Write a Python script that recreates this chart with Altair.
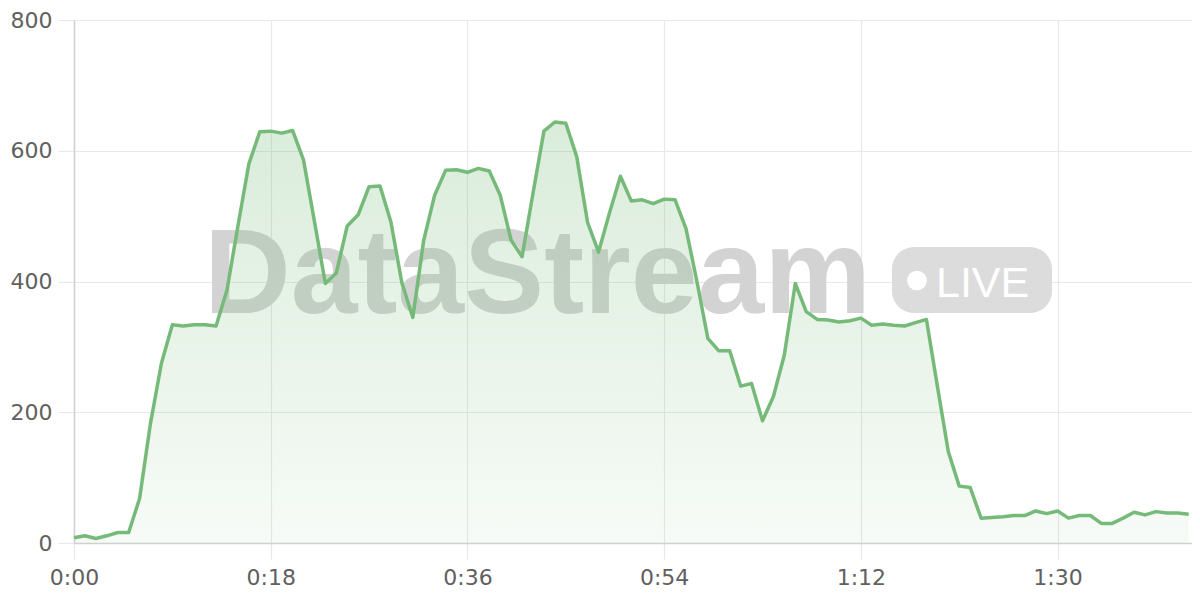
import altair as alt
import pandas as pd

# ---- data ----
values = [8, 11, 7, 11, 16, 16, 68, 183, 275, 334,
          332, 334, 334, 332, 387, 485, 580, 629, 630, 627,
          631, 586, 492, 397, 413, 485, 502, 545, 546, 491,
          398, 345, 463, 532, 570, 571, 567, 573, 569, 532,
          463, 438, 535, 630, 644, 642, 591, 490, 445, 505,
          561, 523, 525, 519, 526, 525, 481, 400, 313, 294,
          294, 240, 244, 187, 224, 288, 397, 354, 342, 341,
          338, 340, 344, 333, 335, 333, 332, 337, 342, 240,
          140, 87, 85, 38, 39, 40, 42, 42, 49, 45,
          49, 38, 42, 42, 30, 30, 38, 47, 43, 48,
          46, 46, 44]
seconds = list(range(len(values)))
x_ticks = [0, 18, 36, 54, 72, 90]
y_ticks = [0, 200, 400, 600, 800]
watermark_text = "DataStream"
badge_text = "LIVE"

df = pd.DataFrame({"t": seconds, "v": values})
one = pd.DataFrame({"k": [0]})

W, H = 1118, 523
GREEN = "#76ba79"
FONT = "DejaVu Sans"

x_enc = alt.X("t:Q",
              scale=alt.Scale(domain=[0, 102.3], nice=False, zero=False),
              axis=alt.Axis(values=x_ticks, title=None, grid=True, labelFlush=False,
                            labelExpr="floor(datum.value/60) + ':' + (datum.value % 60 < 10 ? '0' : '') + (datum.value % 60)",
                            tickSize=16, labelPadding=8, domainColor="#d0d0d0",
                            domainWidth=1.5))
y_enc = alt.Y("v:Q",
              scale=alt.Scale(domain=[0, 800], nice=False),
              axis=alt.Axis(values=y_ticks, title=None, grid=True,
                            tickSize=16, labelPadding=6, domainColor="#d0d0d0",
                            domainWidth=1.5))

# watermark
wm_text = alt.Chart(one).mark_text(
    text=watermark_text, font="Liberation Sans", fontWeight="bold", fontSize=120,
    align="left", baseline="alphabetic", color="#d3d3d3"
).encode(x=alt.value(130), y=alt.value(293))

pill = alt.Chart(one).mark_rect(color="#dcdcdc", cornerRadius=22).encode(
    x=alt.value(818), x2=alt.value(978), y=alt.value(227), y2=alt.value(293))

dot = alt.Chart(one).mark_circle(color="white", opacity=1, size=390).encode(
    x=alt.value(843), y=alt.value(260.5))

badge = alt.Chart(one).mark_text(
    text=badge_text, font="Liberation Sans", fontSize=43,
    align="left", baseline="alphabetic", color="white"
).encode(x=alt.value(862), y=alt.value(277))

area = alt.Chart(df).mark_area(
    line=False,
    color=alt.Gradient(
        gradient="linear", x1=0, y1=0, x2=0, y2=1,
        stops=[alt.GradientStop(color="rgba(116,185,119,0.27)", offset=0),
               alt.GradientStop(color="rgba(116,185,119,0.06)", offset=1)])
).encode(x=x_enc, y=y_enc)

line = alt.Chart(df).mark_line(color=GREEN, strokeWidth=3.5, strokeJoin="round").encode(
    x=x_enc, y=y_enc)

chart = alt.layer(wm_text, pill, dot, badge, area, line).properties(
    width=W, height=H,
    autosize=alt.AutoSizeParams(type="none"),
    padding={"left": 66, "top": 12, "right": 0, "bottom": 45},
).configure_view(stroke=None).configure_axis(
    gridColor="#e8e8e8", gridWidth=1.2, tickColor="#e8e8e8", tickWidth=1.2,
    labelColor="#606060", labelFont=FONT, labelFontSize=22,
).configure_axisX(labelBaseline="top")

chart.save("out.html", embed_options={"renderer": "svg", "actions": False})
